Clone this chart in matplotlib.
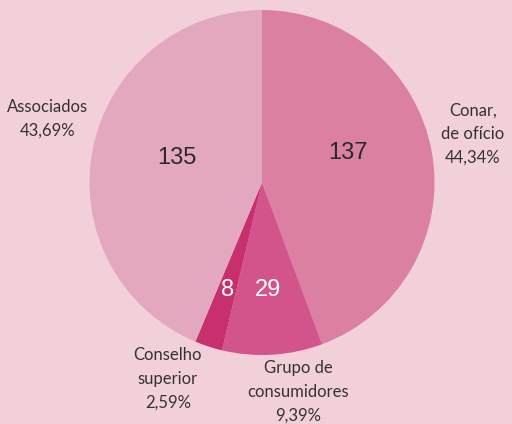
import matplotlib.pyplot as plt

# data
categories = ["Conar,\nde ofício", "Grupo de\nconsumidores", "Conselho\nsuperior", "Associados"]
counts = [137, 29, 8, 135]
shares = ["44,34%", "9,39%", "2,59%", "43,69%"]
colors = ["#DB80A3", "#D3548B", "#C8306D", "#E3A8BF"]
num_colors = ["#2a2a2a", "white", "white", "#2a2a2a"]

H = 424
bg = "#F2D0D9"

fig = plt.figure(figsize=(5.12, 4.24), dpi=100, facecolor=bg)
ax = fig.add_axes([0, 0, 1, 1])
ax.set_facecolor(bg)

wedges, _ = ax.pie(counts, colors=colors, startangle=90, counterclock=False,
                   center=(262, H - 182.5), radius=172.5,
                   wedgeprops=dict(linewidth=0))
ax.set_xlim(0, 512)
ax.set_ylim(0, H)
ax.set_aspect("equal")
ax.axis("off")

# numbers inside slices (positions in pixels from top-left)
num_pos = [(348, 153), (268, 290), (228, 290), (177, 158)]
for n, (x, y), c in zip(counts, num_pos, num_colors):
    ax.text(x, H - y, str(n), ha="center", va="center", fontsize=17,
            color=c, family=["Liberation Sans", "DejaVu Sans"])

# outside labels
lab_pos = [(473, 134), (298, 392), (168, 379), (48, 118.5)]
for cat, sh, (x, y) in zip(categories, shares, lab_pos):
    ax.text(x, H - y, cat + "\n" + sh, ha="center", va="center", fontsize=12,
            color="#333333", family=["Lato", "DejaVu Sans"], linespacing=1.6)

fig.savefig("out.png", dpi=100, facecolor=bg)
